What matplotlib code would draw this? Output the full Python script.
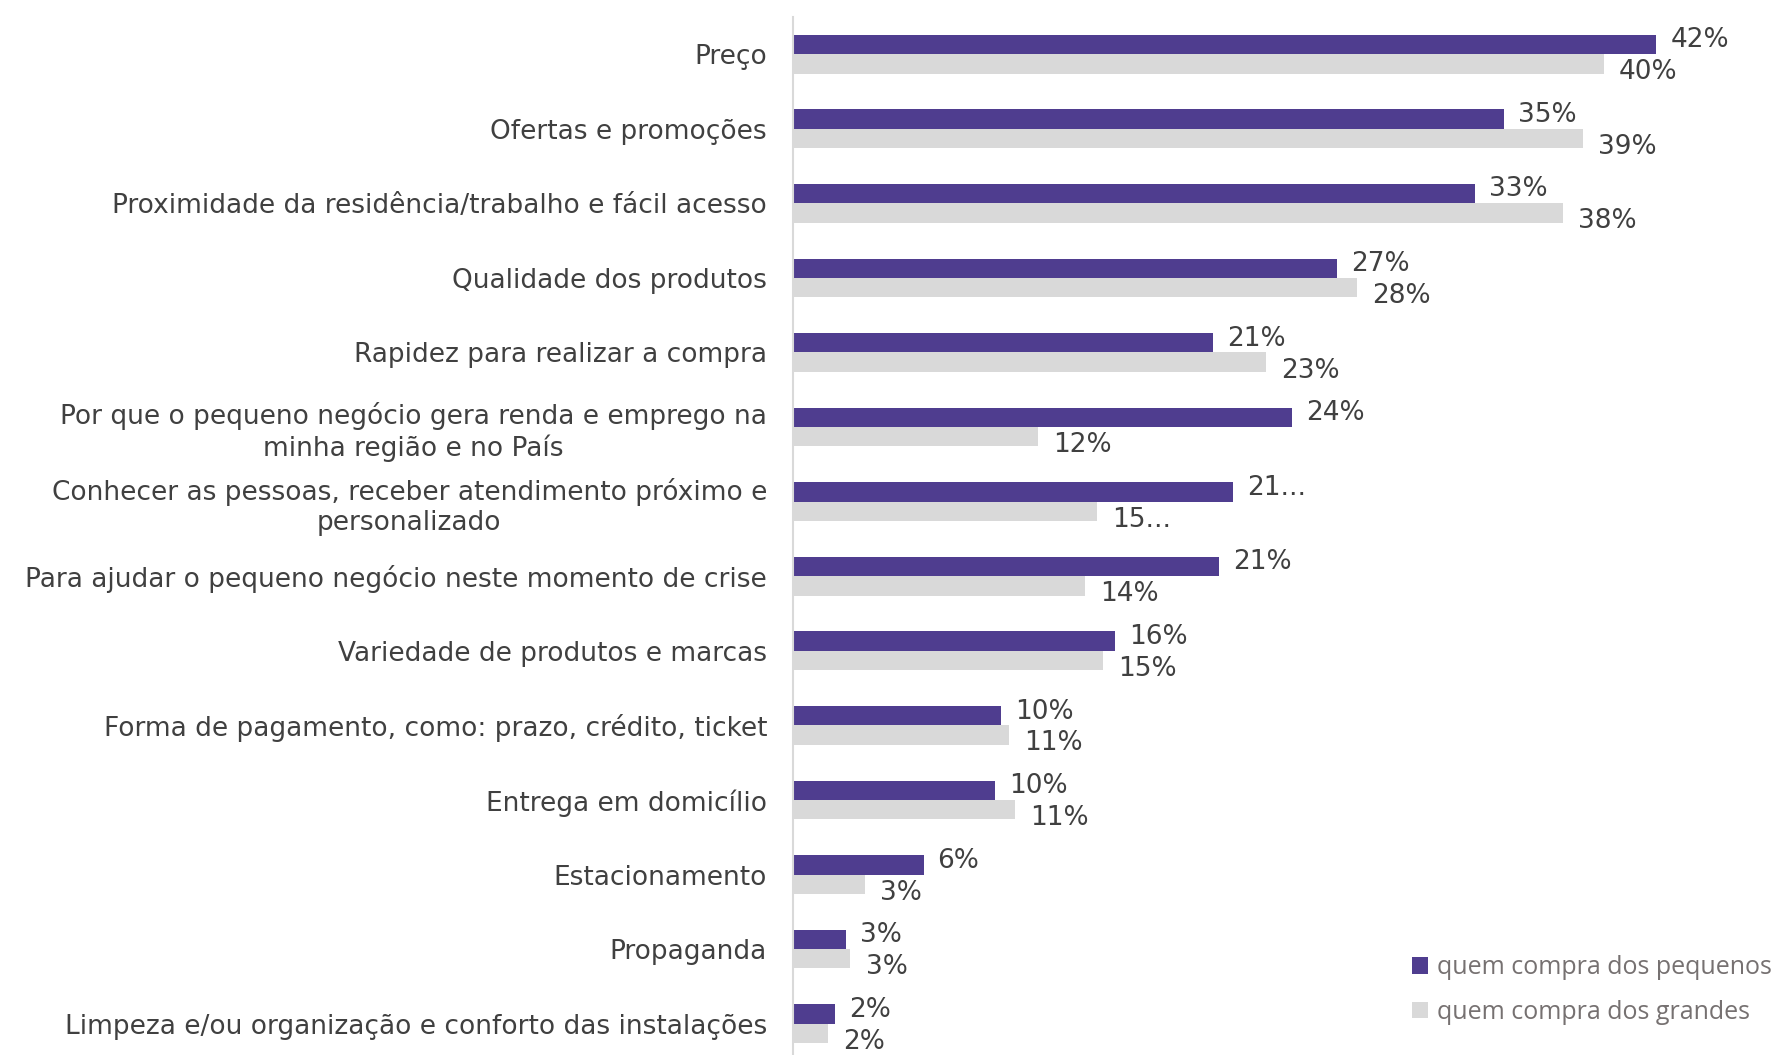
import matplotlib.pyplot as plt
import numpy as np

categories = [
    'Preço',
    'Ofertas e promoções',
    'Proximidade da residência/trabalho e fácil acesso',
    'Qualidade dos produtos',
    'Rapidez para realizar a compra',
    'Por que o pequeno negócio gera renda e emprego na\nminha região e no País',
    'Conhecer as pessoas, receber atendimento próximo e\npersonalizado',
    'Para ajudar o pequeno negócio neste momento de crise',
    'Variedade de produtos e marcas',
    'Forma de pagamento, como: prazo, crédito, ticket',
    'Entrega em domicílio',
    'Estacionamento',
    'Propaganda',
    'Limpeza e/ou organização e conforto das instalações',
]
pequenos = [42.4, 34.9, 33.5, 26.7, 20.6, 24.5, 21.6, 20.9, 15.8, 10.2, 9.9, 6.4, 2.6, 2.05]
grandes = [39.8, 38.8, 37.8, 27.7, 23.2, 12.0, 14.9, 14.3, 15.2, 10.6, 10.9, 3.5, 2.8, 1.7]
pequenos_labels = ['42%', '35%', '33%', '27%', '21%', '24%', '21...', '21%', '16%', '10%', '10%', '6%', '3%', '2%']
grandes_labels = ['40%', '39%', '38%', '28%', '23%', '12%', '15...', '14%', '15%', '11%', '11%', '3%', '3%', '2%']
series_names = ['quem compra dos pequenos', 'quem compra dos grandes']

purple = '#4F3D8F'
grey = '#D9D9D9'
txt = '#404040'

fig = plt.figure(figsize=(17.75, 10.55), dpi=100)
ax = fig.add_axes([0.447, 0.0, 0.5, 0.984])

y = np.arange(len(categories))
h = 0.26
ax.barh(y - h / 2, pequenos, height=h, color=purple, label=series_names[0])
ax.barh(y + h / 2, grandes, height=h, color=grey, label=series_names[1])

# labels de valor (roxo um pouco acima, cinza um pouco abaixo)
for yy, v, lab in zip(y, pequenos, pequenos_labels):
    ax.annotate(lab, (v, yy - h / 2), xytext=(10, 3), textcoords='offset points',
                ha='left', va='center', fontsize=19, color=txt, annotation_clip=False)
for yy, v, lab in zip(y, grandes, grandes_labels):
    ax.annotate(lab, (v, yy + h / 2), xytext=(11, -6), textcoords='offset points',
                ha='left', va='center', fontsize=19, color=txt, annotation_clip=False)

ax.set_xlim(0, 43.6)
ax.set_ylim(13.42, -0.5)
ax.set_yticks(y)
ax.set_yticklabels(categories, fontsize=19, color=txt, multialignment='center', linespacing=1.2)
ax.tick_params(axis='y', length=0, pad=19)
ax.set_xticks([])

for s in ['top', 'right', 'bottom']:
    ax.spines[s].set_visible(False)
ax.spines['left'].set_color(grey)
ax.spines['left'].set_linewidth(1.5)

fig.legend(loc='upper left', bbox_to_anchor=(0.7955, 0.0944), frameon=False,
           prop={'family': 'Open Sans', 'size': 18}, labelcolor='#767171',
           handlelength=0.65, handleheight=0.65, handletextpad=0.35,
           labelspacing=0.78, borderpad=0, borderaxespad=0)

fig.savefig('out.png', dpi=100)
